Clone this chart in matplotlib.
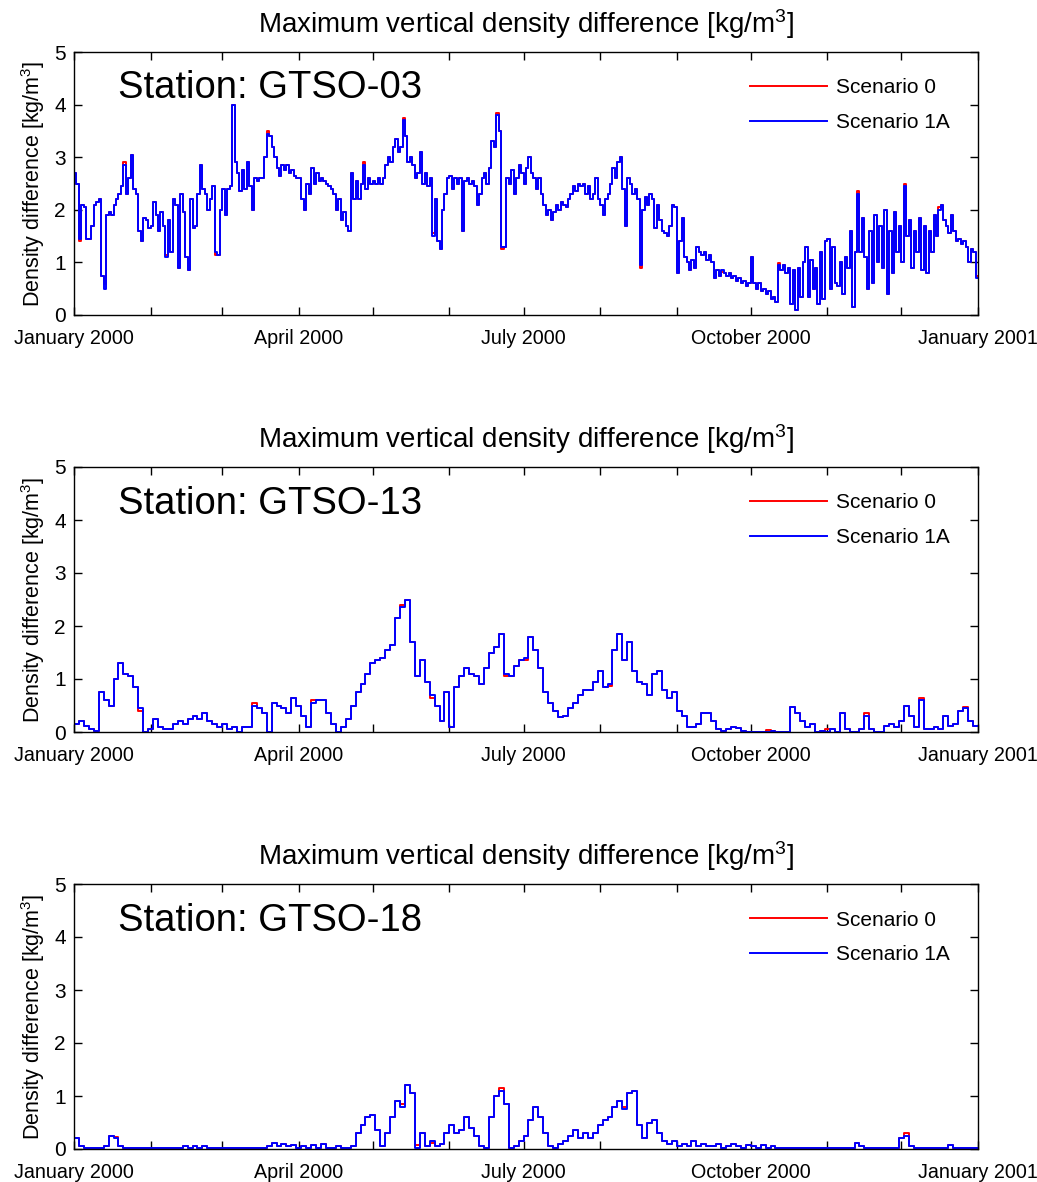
import matplotlib
matplotlib.use("Agg")
import matplotlib.pyplot as plt
import matplotlib.dates as mdates
import numpy as np

plt.rcParams["font.family"] = ["Liberation Sans", "DejaVu Sans"]
plt.rcParams["mathtext.fontset"] = "custom"
plt.rcParams["mathtext.rm"] = "Liberation Sans"
plt.rcParams["mathtext.it"] = "Liberation Sans:italic"
plt.rcParams["mathtext.default"] = "regular"

START = np.datetime64("2000-01-01")
END = np.datetime64("2001-01-01")

STATIONS = ["GTSO-03", "GTSO-13", "GTSO-18"]
SCENARIOS = ["Scenario 0", "Scenario 1A"]
SCENARIO_COLORS = ["#ff0000", "#0000ff"]
YTICKS = [0, 1, 2, 3, 4, 5]
LABELLED_MONTHS = [1, 4, 7, 10]

# GTSO-03: daily values, Scenario 1A (one row per month)
gtso03_s1a = (
    [2.7, 2.5, 1.45, 2.1, 2.05, 1.45, 1.45, 1.7, 2.1, 2.15, 2.2, 0.75, 0.5, 1.9, 1.95, 1.9,
     2.1, 2.2, 2.3, 2.45, 2.85, 2.3, 2.6, 3.05, 2.4, 2.3, 1.6, 1.4, 1.85, 1.8, 1.65]
    + [1.7, 2.15, 1.9, 1.6, 1.95, 1.7, 1.1, 1.8, 1.2, 2.2, 2.1, 0.9, 2.3, 1.95, 1.1, 0.85,
       2.2, 1.65, 1.7, 2.3, 2.85, 2.4, 2.3, 2.0, 2.2, 2.45, 1.2, 1.15, 2.0]
    + [2.4, 1.9, 2.4, 2.45, 4.0, 2.9, 2.7, 2.35, 2.75, 2.4, 2.9, 2.45, 2.0, 2.6, 2.55, 2.6,
       2.6, 3.0, 3.45, 3.4, 3.2, 3.0, 2.8, 2.65, 2.85, 2.75, 2.85, 2.7, 2.75, 2.65, 2.6]
    + [2.6, 2.2, 2.0, 2.5, 2.3, 2.8, 2.5, 2.7, 2.55, 2.6, 2.55, 2.5, 2.45, 2.4, 2.3, 2.0,
       2.2, 1.8, 1.95, 1.7, 1.6, 2.7, 2.2, 2.55, 2.2, 2.5, 2.85, 2.4, 2.6, 2.5]
    + [2.55, 2.5, 2.6, 2.5, 2.6, 2.85, 3.0, 2.9, 3.2, 3.35, 3.1, 3.2, 3.7, 3.4, 2.9, 3.0,
       2.85, 2.6, 2.7, 3.1, 2.5, 2.7, 2.45, 2.6, 1.5, 2.2, 1.4, 1.25, 2.0, 2.3, 2.6]
    + [2.65, 2.4, 2.6, 2.5, 2.6, 1.6, 2.55, 2.6, 2.5, 2.55, 2.45, 2.1, 2.3, 2.6, 2.7, 2.5,
       2.8, 3.3, 3.2, 3.8, 3.5, 1.3, 1.3, 2.6, 2.5, 2.75, 2.3, 2.6, 2.85, 2.7]
    + [2.5, 2.8, 3.0, 2.7, 2.6, 2.4, 2.6, 2.3, 2.1, 1.9, 2.0, 1.8, 1.95, 2.1, 2.0, 2.15,
       2.1, 2.05, 2.2, 2.3, 2.45, 2.35, 2.5, 2.45, 2.5, 2.3, 2.45, 2.2, 2.3, 2.6, 2.2]
    + [2.1, 1.9, 2.2, 2.3, 2.5, 2.8, 2.6, 2.9, 3.0, 2.4, 1.7, 2.6, 2.5, 2.3, 2.4, 2.2,
       0.95, 2.0, 2.25, 2.1, 2.3, 2.2, 1.65, 2.1, 1.8, 1.6, 1.55, 1.5, 1.7, 2.1, 2.05]
    + [0.8, 1.4, 1.85, 1.1, 1.0, 0.85, 1.05, 0.9, 1.3, 1.2, 1.15, 1.2, 1.05, 1.15, 1.0, 0.7,
       0.85, 0.75, 0.85, 0.8, 0.75, 0.8, 0.7, 0.75, 0.65, 0.7, 0.6, 0.65, 0.55, 0.6]
    + [1.1, 0.6, 0.5, 0.6, 0.45, 0.5, 0.4, 0.45, 0.3, 0.35, 0.25, 0.95, 0.85, 0.95, 0.8, 0.9,
       0.2, 0.85, 0.1, 0.9, 0.35, 1.0, 1.3, 0.35, 1.05, 0.5, 0.9, 0.2, 1.2, 0.3, 1.4]
    + [1.45, 0.5, 1.3, 0.6, 0.55, 1.0, 0.4, 1.1, 0.9, 1.6, 0.15, 1.2, 2.3, 1.2, 1.85, 1.1,
       0.5, 1.6, 0.6, 1.9, 1.0, 1.7, 0.9, 2.0, 0.4, 1.6, 0.8, 1.95, 1.2, 1.7]
    + [1.0, 2.45, 1.5, 1.8, 0.9, 1.6, 1.2, 1.85, 0.85, 1.7, 0.8, 1.6, 1.2, 1.9, 1.5, 2.0,
       2.1, 1.8, 1.7, 1.55, 1.9, 1.6, 1.4, 1.45, 1.35, 1.4, 1.3, 1.0, 1.25, 1.2, 0.7]
)
# Scenario 0 departs from 1A only on a few days
gtso03_s0_diff = {2: -0.05, 12: 0.08, 20: 0.05, 37: 0.05, 57: -0.05, 78: 0.04, 117: 0.05,
                  133: 0.04, 145: 0.05, 171: 0.04, 173: -0.04, 229: -0.05, 262: -0.04,
                  285: 0.04, 317: 0.05, 336: 0.05, 350: 0.06, 365: 0.05}

# GTSO-13: two-day values, Scenario 1A
gtso13_s1a = (
    [0.15, 0.2, 0.12, 0.05, 0.02, 0.75, 0.6, 0.5, 1.0, 1.3, 1.1, 1.05, 0.85, 0.45, 0.0, 0.05]
    + [0.25, 0.1, 0.05, 0.05, 0.15, 0.2, 0.15, 0.25, 0.3, 0.25, 0.35, 0.2, 0.15, 0.1]
    + [0.15, 0.05, 0.1, 0.0, 0.1, 0.1, 0.5, 0.45, 0.35, 0.0, 0.55, 0.5, 0.45, 0.35, 0.65, 0.5]
    + [0.3, 0.1, 0.55, 0.6, 0.6, 0.35, 0.15, 0.0, 0.1, 0.25, 0.5, 0.75, 0.9, 1.1, 1.3]
    + [1.35, 1.4, 1.55, 1.65, 2.15, 2.35, 2.5, 1.7, 1.05, 1.35, 0.95, 0.7, 0.5, 0.2, 0.75]
    + [0.1, 0.85, 1.05, 1.2, 1.1, 1.05, 0.9, 1.2, 1.5, 1.6, 1.85, 1.1, 1.05, 1.25, 1.35]
    + [1.4, 1.8, 1.55, 1.2, 0.75, 0.55, 0.4, 0.28, 0.3, 0.45, 0.55, 0.7, 0.8, 0.8, 0.95, 1.15]
    + [0.85, 0.9, 1.55, 1.85, 1.35, 1.7, 1.15, 0.95, 0.9, 0.7, 1.1, 1.15, 0.8, 0.65, 0.75]
    + [0.4, 0.3, 0.1, 0.1, 0.15, 0.35, 0.35, 0.2, 0.05, 0.02, 0.05, 0.1, 0.08, 0.02, 0.0]
    + [0.0, 0.0, 0.0, 0.0, 0.02, 0.0, 0.0, 0.0, 0.48, 0.35, 0.2, 0.1, 0.15, 0.0, 0.02, 0.0]
    + [0.05, 0.0, 0.35, 0.05, 0.0, 0.0, 0.05, 0.3, 0.05, 0.0, 0.0, 0.12, 0.15, 0.1, 0.2]
    + [0.5, 0.3, 0.1, 0.6, 0.05, 0.05, 0.1, 0.05, 0.3, 0.12, 0.15, 0.4, 0.45, 0.2, 0.12]
)
gtso13_s0_diff = {13: -0.05, 36: 0.05, 48: 0.05, 66: 0.04, 72: -0.05, 87: -0.05, 91: -0.05,
                  108: -0.04, 140: 0.04, 152: 0.05, 160: 0.05, 171: 0.05, 180: 0.03}

# GTSO-18: two-day values, Scenario 1A
gtso18_s1a = (
    [0.2, 0.05, 0.02, 0.02, 0.02, 0.02, 0.05, 0.25, 0.2, 0.05, 0.02, 0.02, 0.02, 0.02, 0.02, 0.02]
    + [0.02, 0.02, 0.02, 0.02, 0.02, 0.02, 0.05, 0.02, 0.05, 0.02, 0.05, 0.02, 0.02, 0.02]
    + [0.02, 0.02, 0.02, 0.02, 0.02, 0.02, 0.02, 0.02, 0.02, 0.05, 0.12, 0.05, 0.1, 0.05, 0.08, 0.02]
    + [0.05, 0.02, 0.08, 0.02, 0.1, 0.02, 0.02, 0.05, 0.02, 0.02, 0.05, 0.3, 0.45, 0.6, 0.65]
    + [0.35, 0.05, 0.3, 0.6, 0.9, 0.8, 1.2, 1.05, 0.02, 0.3, 0.05, 0.15, 0.05, 0.1, 0.3]
    + [0.45, 0.3, 0.35, 0.6, 0.4, 0.25, 0.05, 0.02, 0.6, 1.0, 1.1, 0.85, 0.02, 0.05, 0.15]
    + [0.25, 0.55, 0.8, 0.6, 0.3, 0.05, 0.02, 0.1, 0.15, 0.25, 0.35, 0.2, 0.3, 0.2, 0.3, 0.45]
    + [0.55, 0.6, 0.8, 0.9, 0.75, 1.05, 1.1, 0.45, 0.2, 0.5, 0.55, 0.3, 0.15, 0.1, 0.15]
    + [0.05, 0.1, 0.05, 0.15, 0.05, 0.1, 0.05, 0.05, 0.1, 0.02, 0.05, 0.1, 0.05, 0.02, 0.08]
    + [0.05, 0.02, 0.08, 0.02, 0.05, 0.02, 0.02, 0.02, 0.02, 0.02, 0.02, 0.02, 0.02, 0.02, 0.02, 0.02]
    + [0.02, 0.02, 0.02, 0.02, 0.02, 0.12, 0.05, 0.02, 0.02, 0.02, 0.02, 0.02, 0.02, 0.02, 0.2]
    + [0.25, 0.05, 0.02, 0.02, 0.02, 0.02, 0.02, 0.02, 0.02, 0.08, 0.02, 0.02, 0.02, 0.02, 0.02]
)
gtso18_s0_diff = {8: 0.03, 66: 0.05, 69: 0.06, 72: -0.04, 86: 0.05, 111: 0.04, 168: 0.05}

SERIES = [gtso03_s1a, gtso13_s1a, gtso18_s1a]
S0_DIFFS = [gtso03_s0_diff, gtso13_s0_diff, gtso18_s0_diff]
STEP_DAYS = [1, 2, 2]


def step_dates(n, step):
    # one extra edge so the last step runs to the end of the year
    return START + np.arange(n + 1) * np.timedelta64(step, "D")


def month_label(x, pos):
    d = mdates.num2date(x)
    return d.strftime("%B %Y") if d.month in LABELLED_MONTHS else ""


fig = plt.figure(figsize=(10.37, 11.82), dpi=100)
W, H = 1037.0, 1182.0
panel_px = [(52, 315), (467, 732), (884, 1149)]  # top, bottom of each axes
left_px, right_px = 74, 978

for k, (station, s1a, diff, step) in enumerate(zip(STATIONS, SERIES, S0_DIFFS, STEP_DAYS)):
    top, bot = panel_px[k]
    ax = fig.add_axes([left_px / W, 1 - bot / H, (right_px - left_px) / W, (bot - top) / H])

    s1 = np.asarray(s1a, dtype=float)
    s0 = s1.copy()
    for i, d in diff.items():
        s0[i] += d
    x = step_dates(len(s1), step)
    for vals, lab, col in zip([s0, s1], SCENARIOS, SCENARIO_COLORS):
        ax.plot(x, np.append(vals, vals[-1]), drawstyle="steps-post", color=col, lw=1.4, label=lab)

    ax.set_xlim(START, END)
    ax.set_ylim(0, 5)
    ax.set_yticks(YTICKS)
    ax.xaxis.set_major_locator(mdates.MonthLocator())
    ax.xaxis.set_major_formatter(plt.FuncFormatter(month_label))
    ax.tick_params(direction="in", top=True, right=True, length=6, width=1)
    ax.tick_params(axis="x", pad=10, labelsize=14.2)
    ax.tick_params(axis="y", pad=6, labelsize=15)
    for sp in ax.spines.values():
        sp.set_linewidth(1.0)

    ax.set_title("Maximum vertical density difference [kg/m$^3$]", fontsize=20, pad=14)
    ax.set_ylabel("Density difference [kg/m$^3$]", fontsize=15.5, labelpad=5)
    ax.text(0.049, 0.824, "Station: " + station, transform=ax.transAxes,
            fontsize=27.5, va="baseline", ha="left")
    ax.legend(loc="upper left", bbox_to_anchor=(0.748, 0.9), frameon=False,
              fontsize=15, handlelength=3.7, handletextpad=0.4, labelspacing=0.75,
              borderpad=0, borderaxespad=0)

fig.savefig("out.png", dpi=100)
